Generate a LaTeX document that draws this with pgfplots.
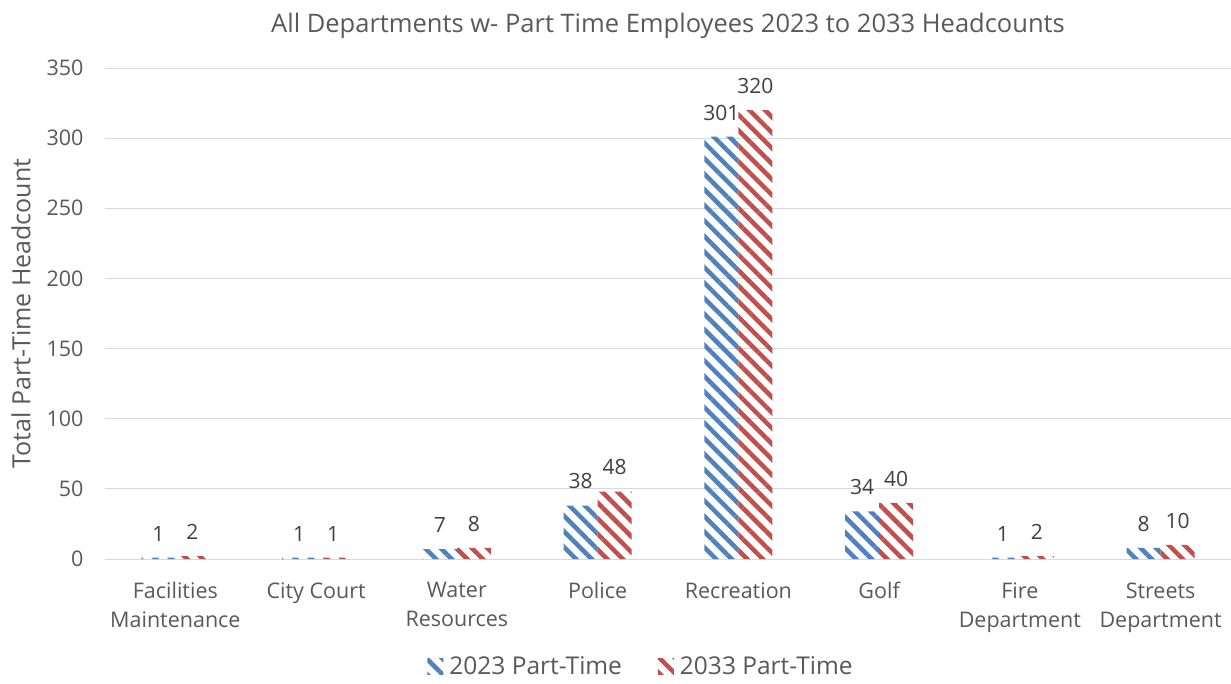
\documentclass[border=0pt]{standalone}
\usepackage{pgfplots}
\pgfplotsset{compat=1.18}
\usepackage{fontspec}
\setmainfont{Open Sans}
\usetikzlibrary{patterns.meta}
\definecolor{bblue}{HTML}{4F81BD}
\definecolor{rred}{HTML}{C0504D}
\definecolor{gridc}{HTML}{D9D9D9}
\definecolor{txt}{HTML}{595959}
\definecolor{lbl}{HTML}{404040}
\newcommand{\fs}[1]{\fontsize{#1}{#1}\selectfont}
\begin{document}
\begin{tikzpicture}[x=1pt,y=1pt]
\useasboundingbox (-105,-124) rectangle (1126,559);
\begin{axis}[
  at={(0,0)}, anchor=south west,
  scale only axis, width=1126pt, height=491pt,
  ymin=0, ymax=350, ytick={0,50,...,350},
  xmin=-0.5, xmax=7.5, xtick={0,...,7},
  xticklabels={{Facilities\\Maintenance},{City Court},{Water\\Resources},{Police},{Recreation},{Golf},{Fire\\Department},{Streets\\Department}},
  xticklabel style={align=center, yshift=-20pt, font=\fontsize{21.5}{29}\selectfont},
  ybar=0pt, bar width=34pt,
  axis x line*=bottom, axis y line*=left,
  y axis line style={draw=none},
  x axis line style={draw=gridc, line width=1pt},
  major tick length=0pt,
  ymajorgrids, grid style={draw=gridc, line width=1pt},
  /pgf/number format/assume math mode=true,
  tick label style={font=\fs{21.5}, text=txt},
  yticklabel style={xshift=-18pt},
  nodes near coords,
  nodes near coords style={font=\fs{21}, text=lbl, yshift=13pt},
  ylabel={Total Part-Time Headcount},
  ylabel style={font=\fs{25}, text=txt, yshift=9pt},
  title={All Departments w- Part Time Employees 2023 to 2033 Headcounts},
  title style={font=\fs{25.5}, text=txt, yshift=20pt},
  legend style={at={(0.476,-0.218)}, anchor=center, draw=none, legend columns=2, font=\fs{24.5}, text=txt,
    /tikz/every even column/.append style={column sep=34pt}},
  legend image code/.code={\draw[#1, draw=none] (0pt,-8pt) rectangle (16pt,8pt); \path (0pt,0pt) -- (20pt,0pt);},
]
\addplot[draw=none, pattern={Lines[angle=-45, distance=11pt, line width=4.5pt]}, pattern color=bblue]
  coordinates {(0,1) (1,1) (2,7) (3,38) (4,301) (5,34) (6,1) (7,8)};
\addplot[draw=none, pattern={Lines[angle=-45, distance=11pt, line width=4.5pt]}, pattern color=rred]
  coordinates {(0,2) (1,1) (2,8) (3,48) (4,320) (5,40) (6,2) (7,10)};
\legend{2023 Part-Time, 2033 Part-Time}
\end{axis}
\end{tikzpicture}
\end{document}
